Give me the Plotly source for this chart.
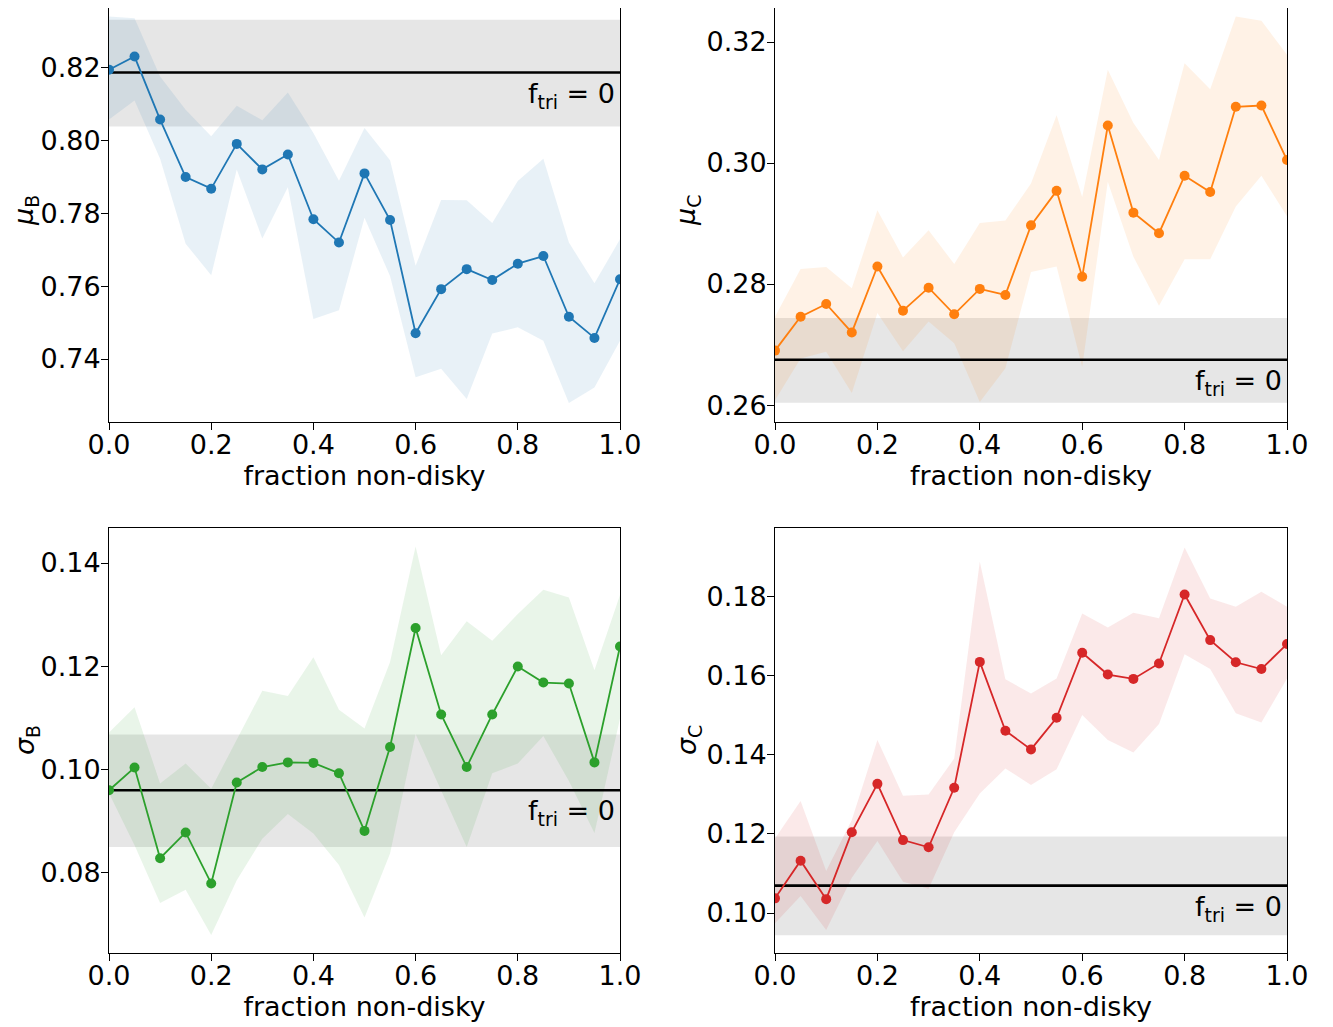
import plotly.graph_objects as go

frac = [0.0, 0.05, 0.1, 0.15, 0.2, 0.25, 0.3, 0.35, 0.4, 0.45, 0.5,
        0.55, 0.6, 0.65, 0.7, 0.75, 0.8, 0.85, 0.9, 0.95, 1.0]

# mu_B
muB = [0.8195, 0.8231, 0.8058, 0.7900, 0.7868, 0.7991, 0.7921, 0.7962, 0.7784, 0.7720, 0.7910,
       0.7782, 0.7471, 0.7592, 0.7647, 0.7617, 0.7662, 0.7683, 0.7516, 0.7458, 0.7619]
muB_hi = [0.8341, 0.8336, 0.8176, 0.8085, 0.8012, 0.8096, 0.8056, 0.8132, 0.8021, 0.7890, 0.8035,
          0.7946, 0.7656, 0.7837, 0.7836, 0.7774, 0.7889, 0.7950, 0.7720, 0.7608, 0.7729]
muB_lo = [0.8058, 0.8110, 0.7950, 0.7717, 0.7630, 0.7921, 0.7731, 0.7872, 0.7510, 0.7534, 0.7788,
          0.7628, 0.7350, 0.7373, 0.7290, 0.7470, 0.7487, 0.7450, 0.7279, 0.7322, 0.7450]
muB_ref, muB_ref_lo, muB_ref_hi = 0.8187, 0.8039, 0.8332

# mu_C
muC = [0.2690, 0.2746, 0.2767, 0.2720, 0.2829, 0.2756, 0.2794, 0.2750, 0.2792, 0.2782, 0.2897,
       0.2954, 0.2812, 0.3062, 0.2918, 0.2884, 0.2979, 0.2952, 0.3093, 0.3095, 0.3005]
muC_hi = [0.2746, 0.2825, 0.2828, 0.2793, 0.2922, 0.2844, 0.2889, 0.2833, 0.2901, 0.2905, 0.2966,
          0.3079, 0.2944, 0.3154, 0.3066, 0.3005, 0.3165, 0.3122, 0.3242, 0.3235, 0.3179]
muC_lo = [0.2608, 0.2677, 0.2688, 0.2620, 0.2752, 0.2689, 0.2738, 0.2702, 0.2605, 0.2661, 0.2820,
          0.2829, 0.2663, 0.2969, 0.2845, 0.2764, 0.2841, 0.2841, 0.2928, 0.2979, 0.2912]
muC_ref, muC_ref_lo, muC_ref_hi = 0.2675, 0.2604, 0.2744

# sigma_B
sigB = [0.0959, 0.1003, 0.0827, 0.0877, 0.0778, 0.0974, 0.1004, 0.1013, 0.1012, 0.0992, 0.0880,
        0.1043, 0.1274, 0.1106, 0.1004, 0.1106, 0.1199, 0.1168, 0.1166, 0.1013, 0.1238]
sigB_hi = [0.1071, 0.1120, 0.0972, 0.1011, 0.0962, 0.1056, 0.1152, 0.1142, 0.1217, 0.1115, 0.1079,
           0.1208, 0.1432, 0.1221, 0.1287, 0.1249, 0.1301, 0.1348, 0.1333, 0.1192, 0.1338]
sigB_lo = [0.0953, 0.0852, 0.0740, 0.0766, 0.0678, 0.0784, 0.0865, 0.0913, 0.0875, 0.0814, 0.0712,
           0.0836, 0.1068, 0.0958, 0.0849, 0.0992, 0.1011, 0.1064, 0.0977, 0.0876, 0.1098]
sigB_ref, sigB_ref_lo, sigB_ref_hi = 0.0959, 0.0849, 0.1067

# sigma_C
sigC = [0.1037, 0.1132, 0.1035, 0.1204, 0.1326, 0.1184, 0.1166, 0.1316, 0.1634, 0.1460, 0.1413,
        0.1493, 0.1657, 0.1602, 0.1591, 0.1630, 0.1804, 0.1689, 0.1633, 0.1616, 0.1679]
sigC_hi = [0.1188, 0.1283, 0.1106, 0.1235, 0.1437, 0.1296, 0.1299, 0.1390, 0.1887, 0.1590, 0.1554,
           0.1592, 0.1756, 0.1721, 0.1758, 0.1744, 0.1923, 0.1794, 0.1773, 0.1811, 0.1773]
sigC_lo = [0.0974, 0.1043, 0.0957, 0.1089, 0.1182, 0.1079, 0.1061, 0.1204, 0.1302, 0.1365, 0.1323,
           0.1363, 0.1500, 0.1437, 0.1405, 0.1477, 0.1653, 0.1616, 0.1504, 0.1481, 0.1592]
sigC_ref, sigC_ref_lo, sigC_ref_hi = 0.1069, 0.0944, 0.1193

x_title = "fraction non-disky"
ann_text = "f<sub>tri</sub> = 0"

FONT = "DejaVu Sans"
FS = 27
W, H = 1325, 1019  # page body has an 8px margin

def xdom(a, b):
    return [(a - 8) / W, (b - 8) / W]

def ydom(top, bottom):
    return [max(0.0, 1 - (bottom - 8) / H), min(1.0, 1 - (top - 8) / H)]

panels = [
    dict(y=muB, hi=muB_hi, lo=muB_lo, ref=muB_ref, rlo=muB_ref_lo, rhi=muB_ref_hi,
         color="#1f77b4", fill="rgba(31,119,180,0.1)", title="<i>μ</i><sub>B</sub>",
         xd=xdom(109, 620), yd=ydom(8, 422), yr=[0.7227, 0.83644], top=True, tx=26, ty=211),
    dict(y=muC, hi=muC_hi, lo=muC_lo, ref=muC_ref, rlo=muC_ref_lo, rhi=muC_ref_hi,
         color="#ff7f0e", fill="rgba(255,127,14,0.1)", title="<i>μ</i><sub>C</sub>",
         xd=xdom(775, 1287), yd=ydom(8, 422), yr=[0.2572, 0.32562], top=True, tx=688, ty=211),
    dict(y=sigB, hi=sigB_hi, lo=sigB_lo, ref=sigB_ref, rlo=sigB_ref_lo, rhi=sigB_ref_hi,
         color="#2ca02c", fill="rgba(44,160,44,0.1)", title="<i>σ</i><sub>B</sub>",
         xd=xdom(109, 620), yd=ydom(528, 953), yr=[0.0643, 0.1468], top=False, tx=26, ty=740),
    dict(y=sigC, hi=sigC_hi, lo=sigC_lo, ref=sigC_ref, rlo=sigC_ref_lo, rhi=sigC_ref_hi,
         color="#d62728", fill="rgba(214,39,40,0.1)", title="<i>σ</i><sub>C</sub>",
         xd=xdom(775, 1287), yd=ydom(528, 953), yr=[0.0899, 0.1972], top=False, tx=688, ty=740),
]

fig = go.Figure()
annotations = []
for i, p in enumerate(panels):
    k = "" if i == 0 else str(i + 1)
    xa, ya = "x" + k, "y" + k
    # gray reference band (f_tri = 0)
    fig.add_trace(go.Scatter(x=[0, 1, 1, 0, 0], y=[p["rlo"], p["rlo"], p["rhi"], p["rhi"], p["rlo"]],
                             fill="toself", fillcolor="rgba(128,128,128,0.2)", line=dict(width=0),
                             mode="lines", xaxis=xa, yaxis=ya, showlegend=False, hoverinfo="skip"))
    # colored uncertainty band
    fig.add_trace(go.Scatter(x=frac, y=p["lo"], mode="lines", line=dict(width=0),
                             xaxis=xa, yaxis=ya, showlegend=False, hoverinfo="skip"))
    fig.add_trace(go.Scatter(x=frac, y=p["hi"], mode="lines", line=dict(width=0),
                             fill="tonexty", fillcolor=p["fill"],
                             xaxis=xa, yaxis=ya, showlegend=False, hoverinfo="skip"))
    # reference line
    fig.add_trace(go.Scatter(x=[0, 1], y=[p["ref"], p["ref"]], mode="lines",
                             line=dict(color="black", width=2.6),
                             xaxis=xa, yaxis=ya, showlegend=False))
    # data
    fig.add_trace(go.Scatter(x=frac, y=p["y"], mode="lines+markers",
                             line=dict(color=p["color"], width=1.8),
                             marker=dict(color=p["color"], size=10),
                             xaxis=xa, yaxis=ya, showlegend=False))
    annotations.append(dict(x=1.0, y=p["ref"], xref=xa, yref=ya, text=ann_text,
                            showarrow=False, xanchor="right", yanchor="top", yshift=-3, xshift=-3,
                            font=dict(family=FONT, size=FS, color="black")))
    # y-axis title
    annotations.append(dict(x=(p["tx"] - 8) / W, y=1 - (p["ty"] - 8) / H, xref="paper", yref="paper",
                            text=p["title"], textangle=-90, showarrow=False, borderpad=0,
                            xanchor="center", yanchor="middle",
                            font=dict(family=FONT, size=FS, color="black")))
    common = dict(showline=True, linecolor="black", linewidth=1,
                  ticks="outside", ticklen=7, tickwidth=1, tickcolor="black",
                  showgrid=False, zeroline=False, automargin=False,
                  tickfont=dict(family=FONT, size=FS, color="black"))
    fig.layout["xaxis" + k] = dict(domain=p["xd"], range=[0, 1], anchor=ya,
                                   mirror=(not p["top"]), ticklabelstandoff=-8,
                                   tickvals=[0, 0.2, 0.4, 0.6, 0.8, 1.0], tickformat=".1f",
                                   title=dict(text=x_title, font=dict(family=FONT, size=FS, color="black"),
                                              standoff=4),
                                   **common)
    fig.layout["yaxis" + k] = dict(domain=p["yd"], range=p["yr"], anchor=xa, mirror=True,
                                   ticklabelstandoff=-5,
                                   dtick=0.02, tickformat=".2f",
                                   **common)

fig.update_layout(width=W, height=H, margin=dict(l=0, r=0, t=0, b=0),
                  plot_bgcolor="white", paper_bgcolor="white",
                  annotations=annotations, font=dict(family=FONT))
fig.write_html("out.html")
